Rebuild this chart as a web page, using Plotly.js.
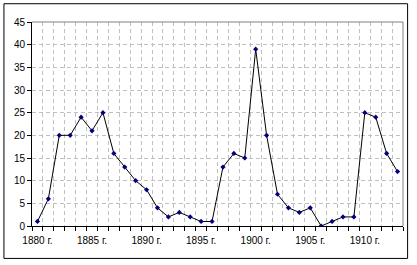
<!DOCTYPE html>
<html><head><meta charset="utf-8">
<script src="https://cdn.plot.ly/plotly-3.0.1.min.js"></script>
<style>html,body{margin:0;padding:0;background:#fff}#c{width:417px;height:265px}</style>
</head><body><div id="c"></div>
<script>
const years = [1880,1881,1882,1883,1884,1885,1886,1887,1888,1889,1890,1891,1892,1893,1894,1895,1896,1897,1898,1899,1900,1901,1902,1903,1904,1905,1906,1907,1908,1909,1910,1911,1912,1913];
const values = [1,6,20,20,24,21,25,16,13,10,8,4,2,3,2,1,1,13,16,15,39,20,7,4,3,4,0,1,2,2,25,24,16,12];
const labelYears = [1880,1885,1890,1895,1900,1905,1910];
const labelText = labelYears.map(y => y + ' г.');
const boundaries = years.map(y => y - 0.5).concat([years[years.length-1] + 0.5]);

const trace = {
  x: years, y: values, type: 'scatter', mode: 'lines+markers',
  line: {color: '#000000', width: 1},
  marker: {symbol: 'diamond', size: 4, color: '#000080'},
  hoverinfo: 'skip'
};
const layout = {
  width: 417, height: 265,
  margin: {l: 32, r: 14, t: 22, b: 39},
  paper_bgcolor: '#ffffff', plot_bgcolor: '#ffffff',
  font: {family: 'Liberation Sans, Arial, sans-serif', size: 10, color: '#000'},
  showlegend: false,
  xaxis: {
    range: [years[0] - 0.5, years[years.length-1] + 0.5],
    tickmode: 'array', tickvals: labelYears, ticktext: labelText,
    ticks: '', showgrid: false, zeroline: false, ticklabelstandoff: 5,
    showline: true, linecolor: '#000', linewidth: 1,
    minor: {tickmode: 'array', tickvals: boundaries, ticks: 'outside', ticklen: 4, tickcolor: '#000',
            showgrid: true, gridcolor: '#c0c0c0', griddash: '4px,3px', gridwidth: 1},
    fixedrange: true
  },
  yaxis: {
    range: [0, 45], dtick: 5, tick0: 0,
    ticks: 'outside', ticklen: 4, tickcolor: '#000',
    showgrid: true, gridcolor: '#c0c0c0', griddash: '4px,3px', gridwidth: 1,
    zeroline: false, showline: true, linecolor: '#000', linewidth: 1,
    fixedrange: true
  },
  shapes: [
    {type: 'line', xref: 'paper', yref: 'paper', x0: 0, x1: 1, y0: 1, y1: 1, line: {color: '#808080', width: 1}},
    {type: 'line', xref: 'paper', yref: 'paper', x0: 1, x1: 1, y0: 0, y1: 1, line: {color: '#808080', width: 1}},
    {type: 'rect', xref: 'paper', yref: 'paper', x0: -0.0756, x1: 1.0124, y0: -0.159, y1: 1.0896,
     line: {color: '#000', width: 1}, fillcolor: 'rgba(0,0,0,0)'}
  ]
};
Plotly.newPlot('c', [trace], layout, {displayModeBar: false, staticPlot: true});
</script>
</body></html>
